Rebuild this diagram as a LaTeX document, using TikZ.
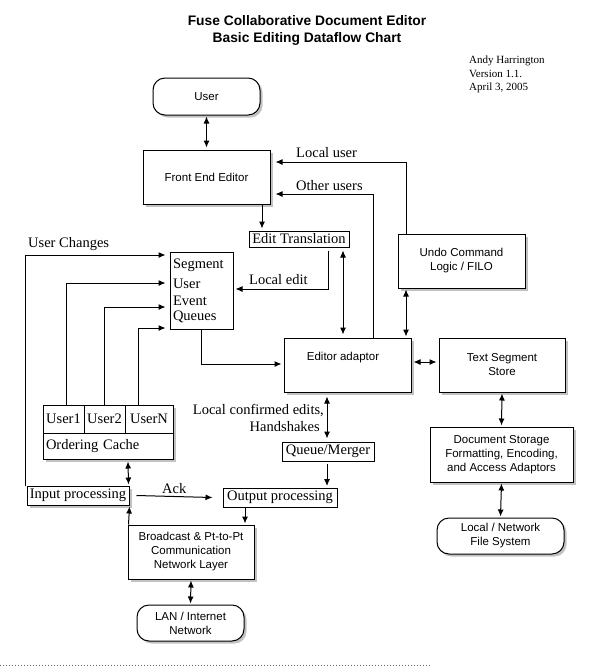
\documentclass[tikz,border=0pt]{standalone}
\usepackage{fontspec}
\setmainfont{Liberation Serif}
\setsansfont{Liberation Sans}
\usetikzlibrary{arrows.meta,shadows}
\tikzset{
  shade/.style={drop shadow={shadow xshift=2.5pt,shadow yshift=-2.5pt,fill=black!40,opacity=.6}},
  sansbox/.style={draw,fill=white,inner sep=0pt,align=center,line width=1pt,shade,
    font=\sffamily\fontsize{11.5}{14}\selectfont},
  roundbox/.style={sansbox,rounded corners=12pt},
  serifbox/.style={draw,fill=white,inner sep=0pt,line width=1pt,
    font=\fontsize{14.5}{15}\selectfont},
  lbl/.style={inner sep=0pt,font=\fontsize{14.5}{17}\selectfont},
  flow/.style={line width=1pt,-{Latex[length=7pt,width=6pt]}},
  twoway/.style={line width=1pt,{Latex[length=7pt,width=6pt]}-{Latex[length=7pt,width=6pt]}},
}
\begin{document}
\begin{tikzpicture}[x=1pt,y=-1pt]
\useasboundingbox (0,0) rectangle (611,667);
\node[font=\sffamily\bfseries\fontsize{13.8}{17}\selectfont,align=center] (title) at (307,30.5)
  {Fuse Collaborative Document Editor\\Basic Editing Dataflow Chart};
\node[anchor=west,align=left,inner sep=0pt,font=\fontsize{11}{13.5}\selectfont] (author) at (469,74.5)
  {Andy Harrington\\Version 1.1.\\April 3, 2005};

\node[roundbox,minimum width=107pt,minimum height=37pt] (user) at (206.5,96.5) {User};
\node[sansbox,minimum width=127pt,minimum height=54pt] (fee) at (206.5,177) {Front End Editor};
\node[serifbox,minimum width=100pt,minimum height=16pt] (edit) at (299,239) {Edit Translation};
\node[serifbox,minimum height=77pt,text width=57pt,inner xsep=3pt,align=left,
  font=\fontsize{14.5}{15}\selectfont] (segq) at (201.5,290.5)
  {Segment\\[5pt]User\\[2pt]Event\\Queues};
\node[sansbox,minimum width=127pt,minimum height=54pt,
  label={[font=\sffamily\fontsize{11.5}{14}\selectfont,xshift=-4.5pt,yshift=7pt]center:Editor adaptor}]
  (editor) at (347.5,365) {};
\node[sansbox,minimum width=127pt,minimum height=54pt] (undo) at (461.5,261) {Undo Command\\Logic / FILO};
\node[sansbox,minimum width=126pt,minimum height=54pt] (textseg) at (502,365) {Text Segment\\Store};
\node[sansbox,minimum width=143pt,minimum height=55pt] (docstore) at (501.5,454.5)
  {Document Storage\\Formatting, Encoding,\\and Access Adaptors};
\node[roundbox,minimum width=127pt,minimum height=36pt] (localfs) at (500.5,536) {Local / Network\\File System};

\node[serifbox,shade,minimum width=41pt,minimum height=28pt] (u1) at (63.5,419) {User1};
\node[serifbox,shade,minimum width=41pt,minimum height=28pt] (u2) at (104.5,419) {User2};
\node[serifbox,shade,minimum width=48pt,minimum height=28pt] (un) at (149,419) {UserN};
\node[serifbox,shade,minimum height=26pt,text width=124pt,inner xsep=3pt,align=left] (cache) at (108,446) {Ordering Cache};
\node[serifbox,shade,minimum width=102pt,minimum height=19pt] (inproc) at (78,495.5) {Input processing};
\node[serifbox,minimum width=92pt,minimum height=19pt] (queue) at (328,451.5) {Queue/Merger};
\node[serifbox,minimum width=114pt,minimum height=19pt] (outproc) at (280,497.5) {Output processing};
\node[sansbox,minimum width=126pt,minimum height=54pt] (bcast) at (191,552)
  {Broadcast \& Pt-to-Pt\\Communication\\Network Layer};
\node[roundbox,minimum width=107pt,minimum height=36pt] (lan) at (190.5,623) {LAN / Internet\\Network};

\node[lbl,anchor=base west] (lbluser) at (296,157) {Local user};
\node[lbl,anchor=base west] (lblother) at (296,190) {Other users};
\node[lbl,anchor=base west] (lblchg) at (28,247) {User Changes};
\node[lbl,anchor=base west] (lbledit) at (249,284) {Local edit};
\node[lbl,anchor=base east] (lblconf) at (324,414) {Local confirmed edits,};
\node[lbl,anchor=base east] (lblhand) at (320,431) {Handshakes};
\node[lbl,anchor=base west] (lblack) at (162,493) {Ack};

\draw[twoway] ([yshift=-1pt]user.south) -- ([yshift=2pt]fee.north);
\draw[flow] ([xshift=-55.5pt]undo.north) |- ([xshift=5pt,yshift=15pt]fee.east);
\draw[flow] ([xshift=25.5pt]editor.north) |- ([xshift=5pt,yshift=-17pt]fee.east);
\draw[flow] ([xshift=55.5pt]fee.south) -- ([xshift=-37pt,yshift=2pt]edit.north);
\draw[flow] ([xshift=29pt,yshift=-3pt]edit.south) |- ([xshift=2pt,yshift=1.5pt]segq.east);
\draw[twoway] ([xshift=44pt,yshift=-3pt]edit.south) -- ([xshift=-4.5pt,yshift=3pt]editor.north);
\draw[twoway] ([xshift=-55.5pt,yshift=-1pt]undo.south) -- ([xshift=58.5pt,yshift=1pt]editor.north);
\draw[twoway] ([xshift=2pt,yshift=3pt]editor.east) -- ([xshift=-2pt,yshift=3pt]textseg.west);
\draw[twoway] ([yshift=-1pt]textseg.south) -- ([yshift=1pt]docstore.north);
\draw[twoway] ([yshift=-1pt]docstore.south) -- ([yshift=1pt]localfs.north);
\draw[flow] (segq.south) |- ([xshift=-2pt,yshift=1pt]editor.west);
\draw[flow] ([xshift=-1pt]inproc.north west) |- ([xshift=-4pt,yshift=35.5pt]segq.west);
\draw[flow] ([xshift=2.5pt]u1.north) |- ([xshift=-4pt,yshift=7.5pt]segq.west);
\draw[flow] (u2.north) |- ([xshift=-4pt,yshift=-16.5pt]segq.west);
\draw[flow] ([xshift=-11pt]un.north) |- ([xshift=-4pt,yshift=-37.5pt]segq.west);
\draw[twoway] ([xshift=20pt,yshift=-2pt]cache.south) -- ([xshift=-1pt,yshift=1pt]inproc.north east);
\draw[flow] ([xshift=7pt]inproc.east) -- ([xshift=-10pt]outproc.west);
\draw[twoway] ([xshift=-20.5pt,yshift=-4pt]editor.south) -- ([xshift=-1pt,yshift=3pt]queue.north);
\draw[flow] ([xshift=-1pt,yshift=-2pt]queue.south) -- ([xshift=47pt,yshift=1.5pt]outproc.north);
\draw[flow] ([xshift=-35pt]outproc.south) -- ([xshift=54pt,yshift=1pt]bcast.north);
\draw[flow] ([xshift=1pt]bcast.north west) -- ([yshift=-1pt]inproc.south east);
\draw[twoway] ([yshift=-1pt]bcast.south) -- ([yshift=1pt]lan.north);
\draw[black!60,line width=1pt,dotted] (0,665) -- (430,665);
\end{tikzpicture}
\end{document}
